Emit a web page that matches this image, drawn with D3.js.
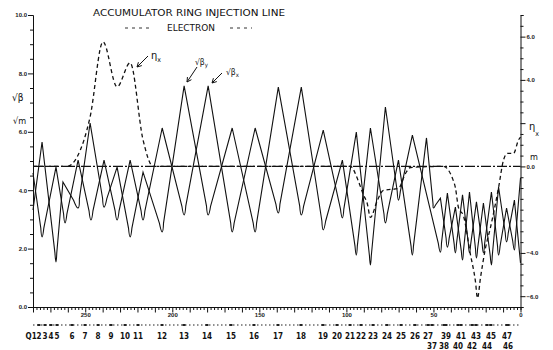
<!DOCTYPE html>
<html>
<head>
<meta charset="utf-8">
<script src="https://cdn.jsdelivr.net/npm/d3@7"></script>
<style>
  body { margin: 0; background: #fff; }
  svg { display: block; font-family: "DejaVu Sans Condensed", "DejaVu Sans", sans-serif; }
</style>
</head>
<body>
<div id="chart"></div>
<script>
// position along the line in ruler units (right end = 0)
const betaY = [
  [280.0, 3.32], [274.8, 5.65], [266.8, 1.54], [262.8, 4.28], [254.1, 3.39], [247.2, 6.30],
  [239.2, 3.42], [231.7, 4.79], [224.2, 2.40], [216.8, 4.62], [205.8, 2.57], [193.2, 7.57],
  [179.4, 3.15], [165.6, 6.13], [152.4, 2.57], [139.1, 7.53], [125.9, 3.15], [113.3, 6.06],
  [102.3, 3.05], [94.3, 5.99], [86.2, 1.44], [77.6, 6.85], [70.1, 3.66], [62.1, 5.89],
  [46.0, 1.88], [42.0, 3.90], [37.4, 1.85], [33.3, 3.84], [29.3, 1.85], [25.3, 3.60],
  [21.3, 1.85], [16.7, 3.94], [12.6, 1.78], [8.0, 3.39], [3.5, 1.95], [0.0, 4.42]
];
const betaX = [
  [280.0, 4.59], [274.8, 2.40], [266.8, 4.79], [261.6, 2.88], [254.1, 5.03], [246.7, 2.98],
  [239.2, 5.03], [231.7, 2.98], [224.2, 5.03], [216.8, 2.98], [205.8, 6.13], [193.2, 3.15],
  [179.4, 7.57], [165.6, 2.57], [152.4, 6.13], [139.1, 3.22], [125.9, 7.53], [113.3, 2.64],
  [102.3, 5.03], [94.3, 1.78], [86.2, 6.13], [77.6, 2.88], [70.1, 5.03], [62.1, 1.78],
  [54.0, 5.79], [50.0, 3.39], [46.0, 3.73], [42.0, 2.05], [37.4, 3.42], [33.3, 1.61],
  [29.3, 3.94], [25.3, 1.68], [21.3, 3.56], [16.7, 1.44], [12.6, 4.11], [8.0, 2.23],
  [3.5, 3.66], [0.0, 1.51]
];
// dispersion, right axis
const etaX = [
  [280, 0], [260.5, 0], [254.7, 0.43], [247.2, 2.29], [239.8, 5.76], [231.7, 3.68],
  [224.2, 4.79], [216.8, 1.23], [211.0, 0], [97.7, 0], [93.5, -0.6], [90.3, -1.3],
  [88.0, -1.72], [86.2, -2.36], [82.2, -1.57], [78.8, -1.11], [70.1, -1.02], [66.1, -0.33],
  [63.2, -0.05], [44.3, 0], [39.1, -0.55], [37.4, -0.98], [35.6, -1.91], [32.7, -2.3],
  [28.8, -4.05], [25.9, -5.3], [24.7, -6.09], [23.0, -5.16], [20.1, -3.77], [17.3, -2.84],
  [12.6, -0.98], [9.8, 0.28], [7.5, 0.60], [4.0, 0.60], [1.2, 1.21], [0, 1.35]
];

const quadNames = ["Q1", "2", "3", "4", "5", "6", "7", "8", "9", "10", "11", "12", "13", "14",
  "15", "16", "17", "18", "19", "20", "21", "22", "23", "24", "25", "26", "27",
  "39", "41", "43", "45", "47"];
const quadPos = [281.1, 276.6, 273.1, 269.7, 266.2, 257.6, 250.1, 242.6, 235.2, 227.1, 219.7,
  205.9, 193.3, 180.1, 166.3, 153.1, 139.3, 126.1, 113.4, 105.4, 97.9, 91.6, 84.7, 76.7,
  68.6, 60.6, 53.1, 42.8, 34.2, 25.6, 17.0, 7.8];
const quadNames2 = ["37", "38", "40", "42", "44", "46"];
const quadPos2 = [50.8, 43.9, 35.9, 27.8, 19.2, 7.2];

const rulerLabels = [250, 200, 150, 100, 50, 0];
const leftLabels = [0, 2, 4, 6, 8, 10];
const rightLabels = [-6, -4, 0, 4, 6];

const width = 553, height = 350;
const svg = d3.select('#chart').append('svg')
  .attr('width', width)
  .attr('height', height);

const x = d3.scaleLinear().domain([280, 0]).range([33, 520.5]);
const yL = d3.scaleLinear().domain([0, 10]).range([307, 15]);
const yR = d3.scaleLinear().domain([-6.5, 7]).range([307, 15]);

// left axis (sqrt beta)
const gl = svg.append('g').attr('transform', 'translate(33,0)')
  .call(d3.axisLeft(yL).tickValues(d3.range(0, 10.01, 0.5)).tickSize(3)
    .tickFormat(d => leftLabels.includes(d) ? d3.format('.1f')(d) : ''));
gl.selectAll('.tick').filter(d => leftLabels.includes(d)).select('line').attr('x2', -5);

// right axis (eta)
const gr = svg.append('g').attr('transform', 'translate(520.5,0)')
  .call(d3.axisRight(yR).tickValues(d3.range(-6.5, 7.01, 0.5)).tickSize(3)
    .tickFormat(d => rightLabels.includes(d) ? d3.format('.1f')(d) : ''));
gr.selectAll('.tick').filter(d => rightLabels.includes(d) || d === 2).select('line').attr('x2', 5);

// bottom ruler
const gb = svg.append('g').attr('transform', 'translate(0,307)')
  .call(d3.axisBottom(x).tickValues(d3.range(0, 280.1, 2)).tickSize(3).tickFormat(''));
gb.selectAll('.tick').filter(d => d % 10 === 0).select('line').attr('y2', 5.5);
svg.append('g').attr('transform', 'translate(0,307)')
  .call(d3.axisBottom(x).tickValues(rulerLabels).tickSize(0).tickPadding(6).tickFormat(d3.format('d')))
  .call(g => g.select('.domain').remove());

svg.selectAll('.tick text').attr('font-size', 6).attr('font-weight', 'bold').attr('fill', '#222');
svg.selectAll('.domain, .tick line').attr('stroke', '#111').attr('stroke-width', 1);

// element line below the ruler
svg.append('line')
  .attr('x1', x(280)).attr('x2', x(0)).attr('y1', 325).attr('y2', 325)
  .attr('stroke', '#222').attr('stroke-width', 1.2).attr('stroke-dasharray', '1.5,2.5');
svg.selectAll('.elem')
  .data(quadPos.slice(1).concat(quadPos2))
  .enter().append('rect')
  .attr('class', 'elem')
  .attr('x', d => x(d) - 1.5).attr('y', 324).attr('width', 3).attr('height', 2)
  .attr('fill', '#222');

svg.selectAll('.qname')
  .data(quadNames)
  .enter().append('text')
  .attr('x', (d, i) => x(quadPos[i]))
  .attr('y', 339)
  .attr('text-anchor', 'middle')
  .attr('font-size', 8).attr('font-weight', 'bold').attr('fill', '#111')
  .text(d => d);
svg.selectAll('.qname2')
  .data(quadNames2)
  .enter().append('text')
  .attr('x', (d, i) => x(quadPos2[i]))
  .attr('y', 349)
  .attr('text-anchor', 'middle')
  .attr('font-size', 8).attr('font-weight', 'bold').attr('fill', '#111')
  .text(d => d);

// eta = 0 reference
svg.append('line')
  .attr('x1', x(280)).attr('x2', x(0)).attr('y1', yR(0)).attr('y2', yR(0))
  .attr('stroke', '#111').attr('stroke-width', 1.1).attr('stroke-dasharray', '10,2,2,2');

// solid beta lines: sharp at the quad peaks, rounded in the troughs
function troughPath(pts) {
  const p = d3.path();
  p.moveTo(pts[0][0], pts[0][1]);
  for (let i = 1; i < pts.length; i++) {
    const v = pts[i];
    if (i < pts.length - 1 && v[1] > pts[i - 1][1] && v[1] > pts[i + 1][1]) {
      const a = pts[i - 1], b = pts[i + 1];
      const la = Math.hypot(a[0] - v[0], a[1] - v[1]);
      const lb = Math.hypot(b[0] - v[0], b[1] - v[1]);
      const d = Math.min(9, 0.3 * la, 0.3 * lb);
      const p0 = [v[0] + (a[0] - v[0]) * d / la, v[1] + (a[1] - v[1]) * d / la];
      const p2 = [v[0] + (b[0] - v[0]) * d / lb, v[1] + (b[1] - v[1]) * d / lb];
      const c = [2 * v[0] - (p0[0] + p2[0]) / 2, 2 * v[1] - (p0[1] + p2[1]) / 2];
      p.lineTo(p0[0], p0[1]);
      p.quadraticCurveTo(c[0], c[1], p2[0], p2[1]);
    } else {
      p.lineTo(v[0], v[1]);
    }
  }
  return p.toString();
}

[betaX, betaY].forEach(series => {
  svg.append('path')
    .attr('d', troughPath(series.map(d => [x(d[0]), yL(d[1])])))
    .attr('fill', 'none')
    .attr('stroke', '#111')
    .attr('stroke-width', 1.1)
    .attr('stroke-linejoin', 'miter');
});

svg.append('path')
  .datum(etaX)
  .attr('d', d3.line().x(d => x(d[0])).y(d => yR(d[1])).curve(d3.curveMonotoneX))
  .attr('fill', 'none')
  .attr('stroke', '#111')
  .attr('stroke-width', 1.3)
  .attr('stroke-dasharray', '4,3');

// titles
svg.append('text').attr('x', 93).attr('y', 16).attr('font-size', 9)
  .attr('textLength', 192).attr('lengthAdjust', 'spacingAndGlyphs').attr('fill', '#111')
  .text('ACCUMULATOR RING INJECTION LINE');
svg.append('text').attr('x', 167).attr('y', 31).attr('font-size', 9)
  .attr('textLength', 48).attr('lengthAdjust', 'spacingAndGlyphs').attr('fill', '#111')
  .text('ELECTRON');
[[125, 152], [230, 252]].forEach(([a, b]) => {
  svg.append('line').attr('x1', a).attr('x2', b).attr('y1', 28).attr('y2', 28)
    .attr('stroke', '#333').attr('stroke-width', 1).attr('stroke-dasharray', '3,4');
});

// axis names
svg.append('text').attr('x', 12).attr('y', 101).attr('font-size', 10).attr('fill', '#111').text('√β');
svg.append('text').attr('x', 13).attr('y', 124).attr('font-size', 9).attr('fill', '#111').text('√m');
svg.append('text').attr('x', 529).attr('y', 130).attr('font-size', 11).attr('fill', '#111')
  .text('η').append('tspan').attr('font-size', 7).attr('dy', 6).text('x');
svg.append('text').attr('x', 530).attr('y', 160).attr('font-size', 9).attr('fill', '#111').text('m');

// curve labels with arrows
function arrow(x1, y1, x2, y2) {
  const ang = Math.atan2(y2 - y1, x2 - x1), h = 5;
  const path = `M${x1},${y1}L${x2},${y2}` +
    `M${x2 - h * Math.cos(ang - 0.5)},${y2 - h * Math.sin(ang - 0.5)}L${x2},${y2}` +
    `L${x2 - h * Math.cos(ang + 0.5)},${y2 - h * Math.sin(ang + 0.5)}`;
  svg.append('path').attr('d', path).attr('fill', 'none').attr('stroke', '#111').attr('stroke-width', 1);
}
arrow(148, 56, 137, 67);
arrow(197, 67, 187, 82);
arrow(222, 73, 212, 83);
svg.append('text').attr('x', 151).attr('y', 59).attr('font-size', 11).attr('fill', '#111')
  .text('η').append('tspan').attr('font-size', 7).attr('dy', 3).text('x');
svg.append('text').attr('x', 195).attr('y', 65).attr('font-size', 8.5).attr('fill', '#111')
  .text('√β').append('tspan').attr('font-size', 6).attr('dy', 2).text('y');
svg.append('text').attr('x', 226).attr('y', 75).attr('font-size', 8.5).attr('fill', '#111')
  .text('√β').append('tspan').attr('font-size', 6).attr('dy', 2).text('x');
</script>
</body>
</html>
